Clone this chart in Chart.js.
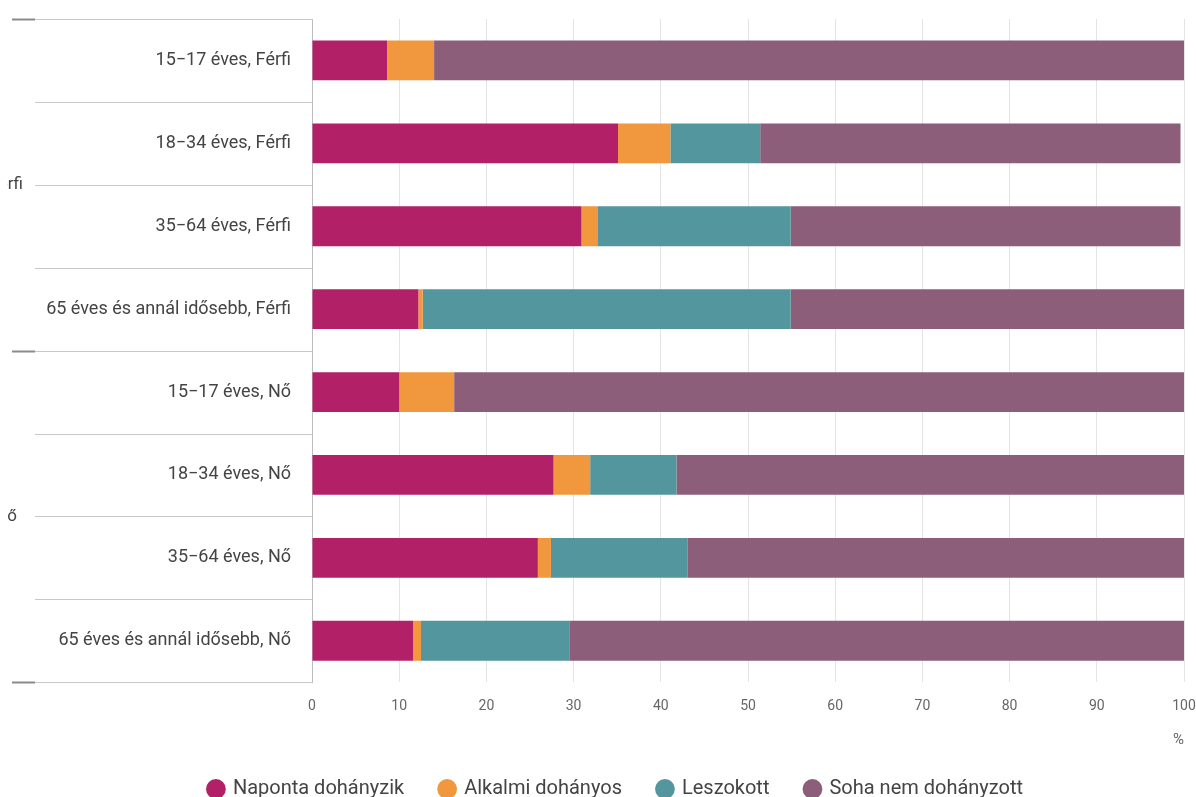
<!DOCTYPE html>
<html lang="hu">
<head>
<meta charset="utf-8">
<title>Dohányzási szokások</title>
<script src="https://cdn.jsdelivr.net/npm/chart.js@4/dist/chart.umd.min.js"></script>
<style>
    html, body { margin: 0; padding: 0; background: #fff; overflow: hidden; }
    #wrap { position: relative; width: 1196px; height: 797px; }
</style>
</head>
<body>
<div id="wrap"><canvas id="smoking-chart"></canvas></div>
<script>
// Categories (age group, sex)
const categories = [
    '15\u221217 éves, Férfi',
    '18\u221234 éves, Férfi',
    '35\u221264 éves, Férfi',
    '65 éves és annál idősebb, Férfi',
    '15\u221217 éves, Nő',
    '18\u221234 éves, Nő',
    '35\u221264 éves, Nő',
    '65 éves és annál idősebb, Nő'
];
// Outer group labels, each covers 4 rows
const groups = ['Férfi', 'Nő'];

// Series values (%)
const naponta = [8.6, 35.1, 30.9, 12.2, 10.0, 27.7, 25.9, 11.6];
const alkalmi = [5.4, 6.0, 1.9, 0.5, 6.3, 4.2, 1.5, 0.9];
const leszokott = [0, 10.3, 22.1, 42.2, 0, 9.9, 15.7, 17.0];
const soha = [86.0, 48.2, 44.7, 45.1, 83.7, 58.2, 56.9, 70.5];

const xTicks = [0, 10, 20, 30, 40, 50, 60, 70, 80, 90, 100];

document.addEventListener('DOMContentLoaded', () => {
    const ctx = document.getElementById('smoking-chart').getContext('2d');

    // Separator lines and group labels left of the bars
    const groupLines = {
        id: 'groupLines',
        afterDraw(chart) {
            const y = chart.scales.y;
            const c = chart.ctx;
            const left = chart.chartArea.left;
            c.save();
            for (let i = 0; i <= categories.length; i++) {
                const py = Math.round(y.getPixelForValue(i - 0.5)) + 0.5;
                const isGroupEdge = i % 4 === 0;
                c.lineWidth = 1;
                c.strokeStyle = '#c8c8c8';
                c.beginPath();
                c.moveTo(isGroupEdge ? 12 : 35, py);
                c.lineTo(left, py);
                c.stroke();
                if (isGroupEdge) {
                    c.strokeStyle = '#8a8a8a';
                    c.lineWidth = 2;
                    c.beginPath();
                    c.moveTo(12, py);
                    c.lineTo(35, py);
                    c.stroke();
                }
            }
            // group labels, cut at the left like in the source image
            c.beginPath();
            c.rect(7, 0, 40, chart.height);
            c.clip();
            c.font = '17px Roboto';
            c.fillStyle = '#444';
            c.textAlign = 'right';
            c.textBaseline = 'middle';
            groups.forEach((g, gi) => {
                const py = y.getPixelForValue(gi * 4 + 1.5);
                c.fillText(g, gi === 0 ? 23 : 17, py);
            });
            c.restore();
        }
    };

    new Chart(ctx, {
        type: 'bar',
        data: {
            labels: categories,
            datasets: [
                { label: 'Naponta dohányzik', data: naponta, backgroundColor: '#b22068' },
                { label: 'Alkalmi dohányos', data: alkalmi, backgroundColor: '#f1973d' },
                { label: 'Leszokott', data: leszokott, backgroundColor: '#54969e' },
                { label: 'Soha nem dohányzott', data: soha, backgroundColor: '#8c5e7a' }
            ]
        },
        options: {
            indexAxis: 'y',
            responsive: true,
            maintainAspectRatio: false,
            animation: false,
            // left padding only shifts the legend; the y axis width makes up for it
            layout: { padding: { top: 19, right: 0, left: 36, bottom: -12 } },
            datasets: {
                bar: { barPercentage: 0.96, categoryPercentage: 0.5, borderWidth: 0 }
            },
            scales: {
                x: {
                    stacked: true,
                    min: 0,
                    max: 100,
                    afterBuildTicks: (scale) => {
                        scale.ticks = xTicks.map(v => ({ value: v }));
                    },
                    afterFit: (scale) => {
                        scale.paddingRight = 12;
                        scale.paddingLeft = 0;
                    },
                    grid: { color: '#e4e4e4', drawTicks: false },
                    border: { display: false },
                    ticks: {
                        padding: 16,
                        color: '#666',
                        font: { family: 'Roboto', size: 14 }
                    },
                    title: {
                        display: true,
                        text: '%',
                        align: 'end',
                        color: '#666',
                        font: { family: 'Roboto', size: 15 },
                        padding: { top: 0, bottom: -6 }
                    }
                },
                y: {
                    stacked: true,
                    afterFit: (scale) => {
                        scale.width = 276;
                        scale.paddingTop = 0;
                        scale.paddingBottom = 0;
                    },
                    grid: { display: false },
                    border: { display: true, color: '#bdbdbd' },
                    ticks: {
                        padding: 13,
                        color: '#444',
                        font: { family: 'Roboto', size: 18 }
                    }
                }
            },
            plugins: {
                legend: {
                    position: 'bottom',
                    labels: {
                        usePointStyle: true,
                        pointStyle: 'circle',
                        boxWidth: 14,
                        boxHeight: 14,
                        padding: 36,
                        color: '#444',
                        font: { family: 'Roboto', size: 20 }
                    }
                },
                tooltip: { enabled: true }
            }
        },
        plugins: [groupLines]
    });
});
</script>
</body>
</html>
